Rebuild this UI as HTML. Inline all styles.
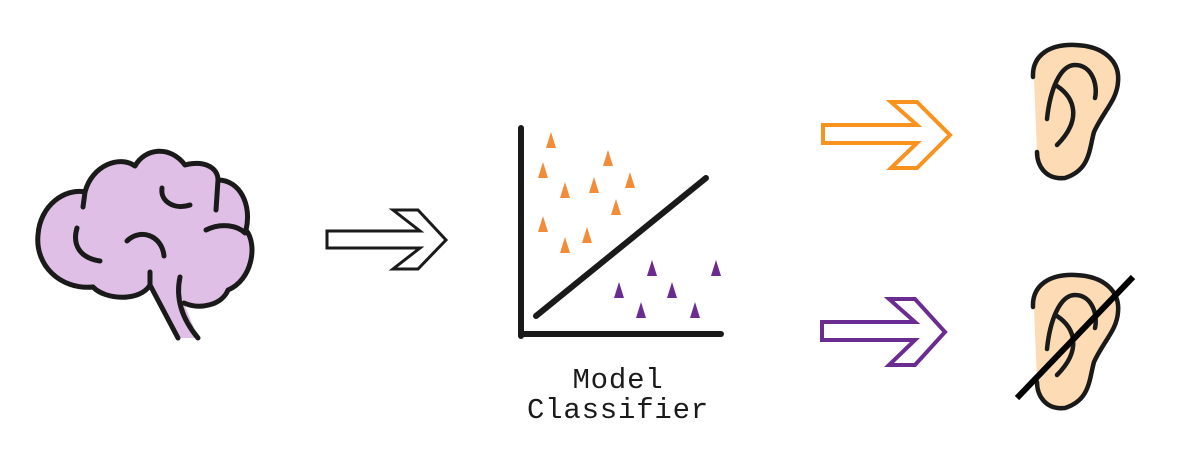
<!DOCTYPE html>
<html><head><style>
html,body{margin:0;padding:0;background:#fff;width:1186px;height:461px;overflow:hidden}
</style></head><body>
<svg width="1186" height="461" viewBox="0 0 1186 461" xmlns="http://www.w3.org/2000/svg">
<!-- Brain -->
<g stroke="#1a1a1a" stroke-width="5" stroke-linecap="round" stroke-linejoin="round">
<path d="M85,192 C92,165 120,155 135,166 C145,148 170,145 185,165 C205,160 218,168 218,180 C240,180 252,205 246,230 C258,245 252,280 228,290 C222,305 200,310 184,303 L198,338 L178,338 L150,285 C140,300 105,300 95,285 C60,290 35,265 38,235 C40,205 65,188 85,192 Z" fill="#e0bfe6" stroke="none"/>
<path d="M93,287 C60,290 35,265 38,235 C40,205 65,188 85,192 C92,165 120,155 135,166 C145,148 170,145 185,165 C205,160 218,168 218,180 C240,180 252,205 246,230 C258,245 252,280 228,290 C222,305 200,310 184,303" fill="none"/>
<path d="M93,287 C105,300 140,302 150,285 L150,272" fill="none"/>
<path d="M150,285 L178,338" fill="none"/>
<path d="M180,277 C175,300 183,320 198,338" fill="none"/>
<path d="M85,192 L83,207" fill="none"/>
<path d="M77,228 C72,245 80,258 100,261" fill="none"/>
<path d="M127,241 C140,228 162,235 164,256" fill="none"/>
<path d="M162,188 C160,202 175,210 190,205" fill="none"/>
<path d="M218,180 L216,210" fill="none"/>
<path d="M206,230 C222,222 238,226 245,233" fill="none"/>
</g>
<!-- Black arrow -->
<polygon points="327,231 420,231 393,210 418,210 446,240 418,269 393,269 420,248 327,248" fill="none" stroke="#1a1a1a" stroke-width="3" stroke-linejoin="miter"/>
<!-- Orange arrow -->
<polygon points="823,125 917,125 891,102 917,102 950,135 917,168 891,168 917,143 823,143" fill="none" stroke="#f7931e" stroke-width="4"/>
<!-- Purple arrow -->
<polygon points="822,322 915,322 889,299 915,299 945,332 915,365 889,365 915,340 822,340" fill="none" stroke="#6a2c91" stroke-width="4"/>
<!-- Chart -->
<g stroke="#1a1a1a" stroke-width="6" stroke-linecap="round">
<line x1="521" y1="128" x2="521" y2="336"/>
<line x1="521" y1="334" x2="721" y2="334"/>
<line x1="536" y1="316" x2="706" y2="178"/>
</g>
<g fill="#f28c38">
<polygon points="551,132 546,148 556,148"/>
<polygon points="543,162 538,178 548,178"/>
<polygon points="565,182 560,198 570,198"/>
<polygon points="608,150 603,166 613,166"/>
<polygon points="594,177 589,193 599,193"/>
<polygon points="630,172 625,188 635,188"/>
<polygon points="616,199 611,215 621,215"/>
<polygon points="543,216 538,232 548,232"/>
<polygon points="565,237 560,253 570,253"/>
<polygon points="587,227 582,243 592,243"/>
</g>
<g fill="#6a2c91">
<polygon points="652,260 647,276 657,276"/>
<polygon points="716,260 711,276 721,276"/>
<polygon points="619,282 614,298 624,298"/>
<polygon points="672,282 667,298 677,298"/>
<polygon points="641,302 636,318 646,318"/>
<polygon points="695,302 690,318 700,318"/>
</g>
<text x="618" y="388" text-anchor="middle" font-family="Liberation Mono, monospace" font-size="29" letter-spacing="0.8" fill="#1a1a1a">Model</text>
<text x="618" y="418" text-anchor="middle" font-family="Liberation Mono, monospace" font-size="29" letter-spacing="0.8" fill="#1a1a1a">Classifier</text>
<!-- Ears -->
<g id="ear" stroke="#1a1a1a" stroke-width="4.5" stroke-linecap="round" fill="none">
<path d="M1034,78 C1030,55 1050,44 1075,45 C1105,46 1120,60 1118,80 C1117,100 1105,110 1095,130 C1088,150 1090,170 1065,178 C1045,180 1036,165 1037,152 Z" fill="#fddcb5" stroke="none"/>
<path d="M1033,77 C1032,55 1050,44 1075,45 C1105,46 1120,62 1118,82 C1117,100 1103,112 1094,132 C1089,150 1090,170 1065,178 C1045,180 1037,165 1037,152"/>
<path d="M1047,119 C1050,90 1060,65 1075,65 C1092,65 1098,85 1095,98"/>
<path d="M1057,86 C1075,98 1082,120 1057,145"/>
</g>
<use href="#ear" transform="translate(0,230)"/>
<line x1="1017" y1="398" x2="1133" y2="277" stroke="#000" stroke-width="6"/>
</svg>
</body></html>
